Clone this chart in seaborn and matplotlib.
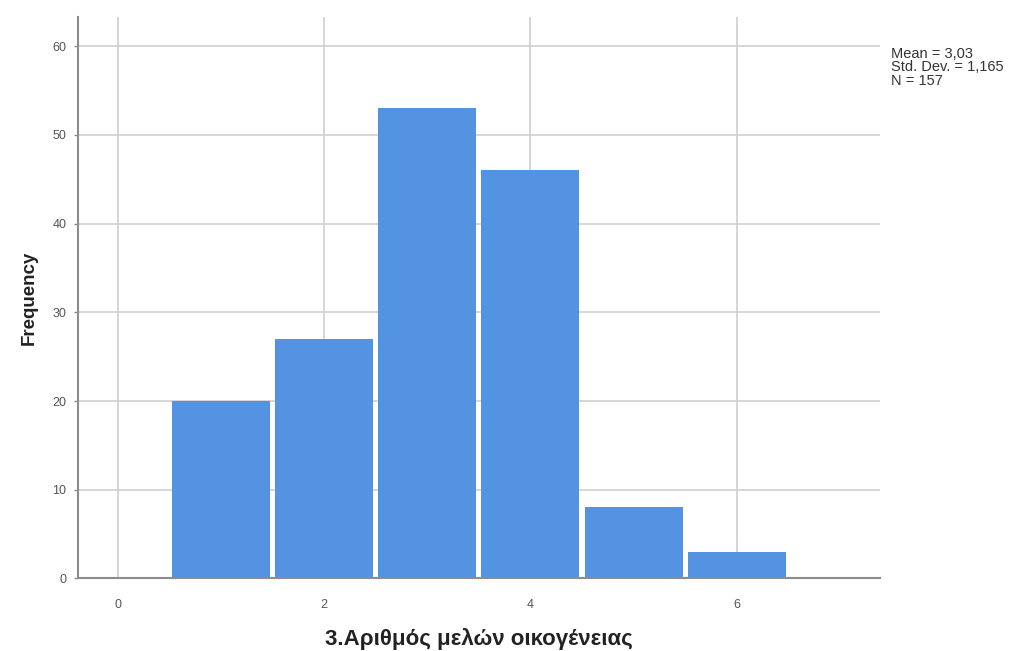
import matplotlib
matplotlib.use("Agg")
import matplotlib.pyplot as plt
import seaborn as sns
import numpy as np

members = [1, 2, 3, 4, 5, 6]
counts = [20, 27, 53, 46, 8, 3]
x_ticks = [0, 2, 4, 6]
y_ticks = [0, 10, 20, 30, 40, 50, 60]
stats_lines = ["Mean = 3,03", "Std. Dev. = 1,165", "N = 157"]

sns.set_theme(style="white")
plt.rcParams['font.family'] = ['Liberation Sans', 'DejaVu Sans']

fig = plt.figure(figsize=(10.1, 6.51), dpi=100)
ax = fig.add_axes([0.0769, 0.1115, 0.8713 - 0.0769, 0.974 - 0.1115])

sns.histplot(x=members, weights=counts, discrete=True, shrink=0.95, ax=ax,
             color="#5493E1", alpha=1.0, linewidth=0, zorder=3)

ax.set_xlim(-0.39, 7.39)
ax.set_ylim(0, 63.3)
ax.set_xticks(x_ticks)
ax.set_yticks(y_ticks)
ax.set_xticklabels([str(t) for t in x_ticks], fontsize=9, color="#555555")
ax.set_yticklabels([str(t) for t in y_ticks], fontsize=9, color="#555555")

for v in x_ticks:
    ax.axvline(v, color="#cfcfcf", linewidth=1.2, zorder=1)
for v in y_ticks[1:]:
    ax.axhline(v, color="#cfcfcf", linewidth=1.2, zorder=1)

for s in ["top", "right"]:
    ax.spines[s].set_visible(False)
for s in ["left", "bottom"]:
    ax.spines[s].set_color("#8c8c8c")
    ax.spines[s].set_linewidth(1.5)
    ax.spines[s].set_zorder(4)

ax.tick_params(axis="y", left=True, length=3, width=1, color="#8c8c8c", pad=5)
ax.tick_params(axis="x", bottom=False, pad=9)

ax.set_ylabel("Frequency", fontsize=13.5, fontweight="bold", color="#222222", labelpad=11)
ax.set_xlabel("3.Αριθμός μελών οικογένειας", fontsize=16, fontweight="bold",
              color="#222222", labelpad=12)

fig.text(891 / 1010, 1 - 47 / 651, "\n".join(stats_lines), fontsize=10.5,
         color="#333333", va="top", ha="left", linespacing=0.95)

fig.savefig("out.png", dpi=100)
